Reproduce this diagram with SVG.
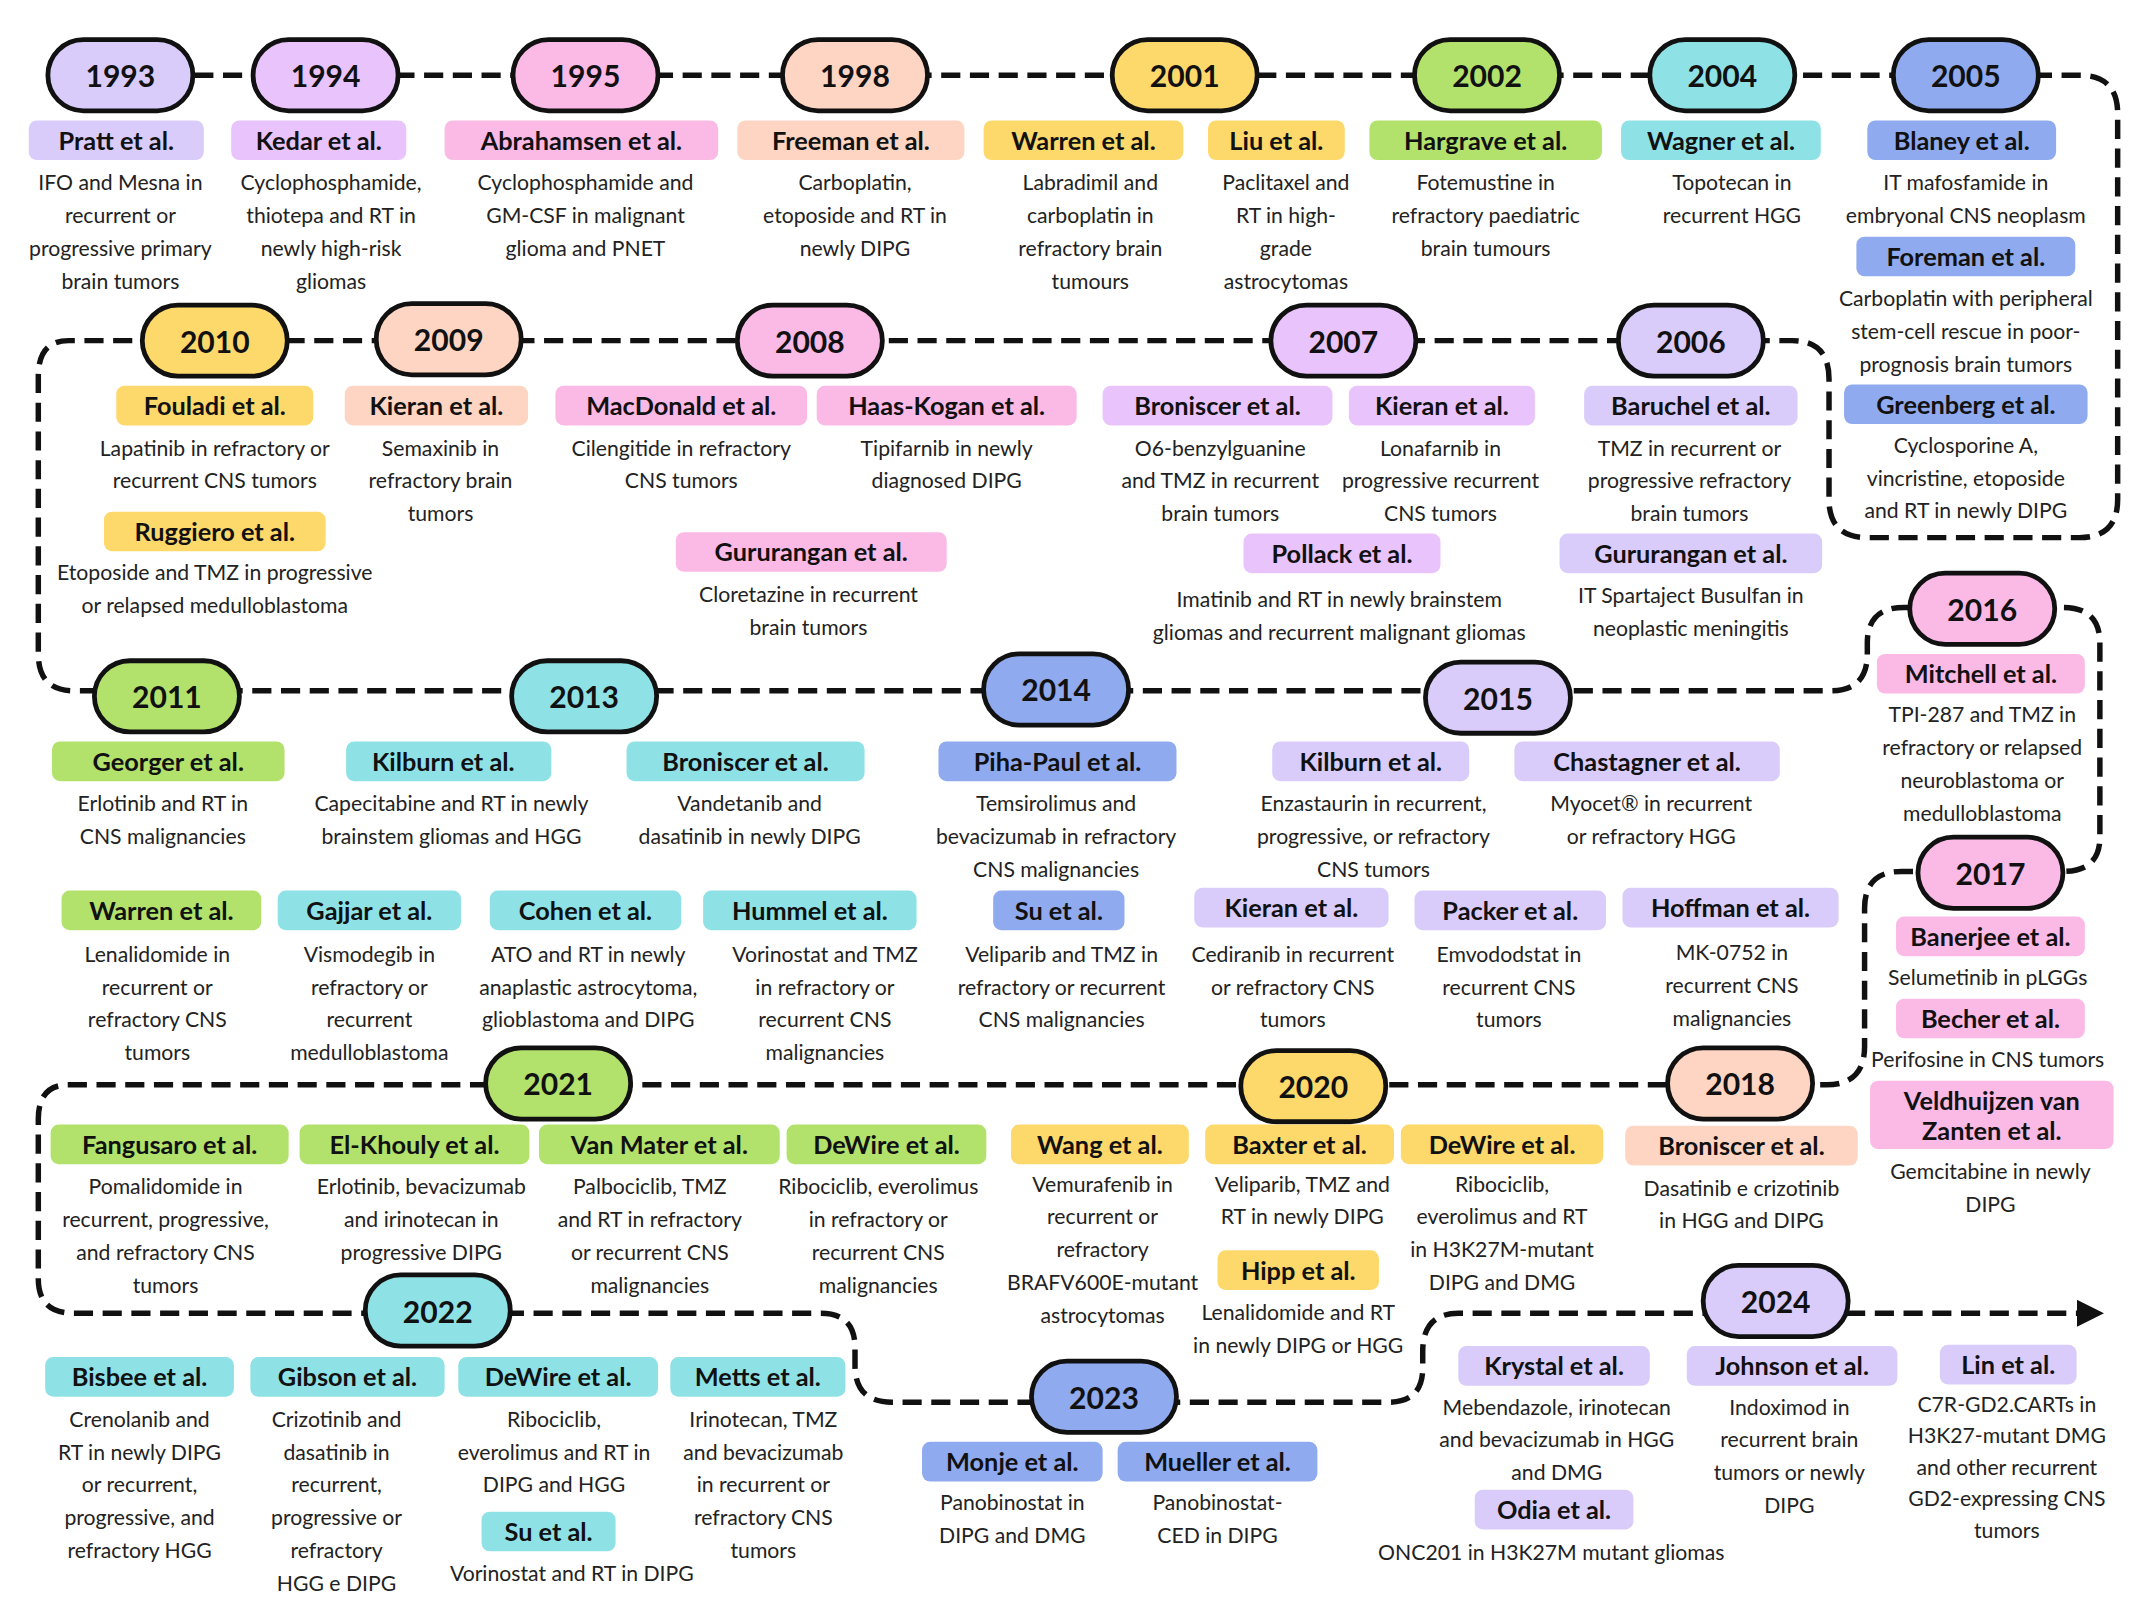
<svg xmlns="http://www.w3.org/2000/svg" width="2134" height="1600" viewBox="0 0 2134 1600">
<style>
.p{stroke:#111;stroke-width:3.5}
.y{font:bold 22px Lato,"Liberation Sans",sans-serif;fill:#111;text-anchor:middle;dominant-baseline:central}
.n{font:bold 18.5px Lato,"Liberation Sans",sans-serif;fill:#111;text-anchor:middle;dominant-baseline:central}
.d{font:15.5px Lato,"Liberation Sans",sans-serif;fill:#222;text-anchor:middle}
.lav{fill:#d9ccfb}.pur{fill:#e9c3fb}.pnk{fill:#fbb9e6}.pch{fill:#fdd5c2}.yel{fill:#fdd86a}.grn{fill:#b2e26b}.cyn{fill:#8ee2e6}.blu{fill:#8faaee}
.c{fill:none;stroke:#111;stroke-width:4;stroke-dasharray:14 7}
</style>
<defs><marker id="ah" viewBox="0 0 10 10" refX="6" refY="5" markerWidth="5" markerHeight="5" orient="auto"><path d="M0,0 L10,5 L0,10 z" fill="#111"/></marker></defs>
<rect width="2134" height="1600" fill="#fff"/>
<g transform="scale(1.368)">
<g id="connectors">
<path class="c" d="M142,55 H1520 Q1548,55 1548,83 V365 Q1548,393 1520,393 H1365 Q1337,393 1337,365 V277 Q1337,249 1310,249 H50 Q28,249 28,275 V478 Q28,505 54,505 H1338 Q1365,505 1365,478 V470 Q1365,444 1392,444 H1508 Q1535,444 1535,470 V612 Q1535,637 1508,637 H1390 Q1363,637 1363,664 V765 Q1363,793 1335,793 H50 Q28,793 28,818 V935 Q28,960 54,960 H600 Q625,960 625,985 V998 Q625,1025 652,1025 H1015 Q1040,1025 1040,1000 V988 Q1040,960 1066,960 H1530" marker-end="url(#ah)"/>
</g>
<g id="years">
<g id="y1993"><rect class="p lav" x="35" y="29" width="106" height="52" rx="26"/><text class="y" x="88" y="55">1993</text></g>
<g id="y1994"><rect class="p pur" x="185" y="29" width="106" height="52" rx="26"/><text class="y" x="238" y="55">1994</text></g>
<g id="y1995"><rect class="p pnk" x="375" y="29" width="106" height="52" rx="26"/><text class="y" x="428" y="55">1995</text></g>
<g id="y1998"><rect class="p pch" x="572" y="29" width="106" height="52" rx="26"/><text class="y" x="625" y="55">1998</text></g>
<g id="y2001"><rect class="p yel" x="813" y="29" width="106" height="52" rx="26"/><text class="y" x="866" y="55">2001</text></g>
<g id="y2002"><rect class="p grn" x="1034" y="29" width="106" height="52" rx="26"/><text class="y" x="1087" y="55">2002</text></g>
<g id="y2004"><rect class="p cyn" x="1206" y="29" width="106" height="52" rx="26"/><text class="y" x="1259" y="55">2004</text></g>
<g id="y2005"><rect class="p blu" x="1384" y="29" width="106" height="52" rx="26"/><text class="y" x="1437" y="55">2005</text></g>
<g id="y2006"><rect class="p lav" x="1183" y="223" width="106" height="52" rx="26"/><text class="y" x="1236" y="249">2006</text></g>
<g id="y2007"><rect class="p pur" x="929" y="223" width="106" height="52" rx="26"/><text class="y" x="982" y="249">2007</text></g>
<g id="y2008"><rect class="p pnk" x="539" y="223" width="106" height="52" rx="26"/><text class="y" x="592" y="249">2008</text></g>
<g id="y2009"><rect class="p pch" x="275" y="222" width="106" height="52" rx="26"/><text class="y" x="328" y="248">2009</text></g>
<g id="y2010"><rect class="p yel" x="104" y="223" width="106" height="52" rx="26"/><text class="y" x="157" y="249">2010</text></g>
<g id="y2011"><rect class="p grn" x="69" y="483" width="106" height="52" rx="26"/><text class="y" x="122" y="509">2011</text></g>
<g id="y2013"><rect class="p cyn" x="374" y="483" width="106" height="52" rx="26"/><text class="y" x="427" y="509">2013</text></g>
<g id="y2014"><rect class="p blu" x="719" y="478" width="106" height="52" rx="26"/><text class="y" x="772" y="504">2014</text></g>
<g id="y2015"><rect class="p lav" x="1042" y="484" width="106" height="52" rx="26"/><text class="y" x="1095" y="510">2015</text></g>
<g id="y2016"><rect class="p pnk" x="1396" y="419" width="106" height="52" rx="26"/><text class="y" x="1449" y="445">2016</text></g>
<g id="y2017"><rect class="p pnk" x="1402" y="612" width="106" height="52" rx="26"/><text class="y" x="1455" y="638">2017</text></g>
<g id="y2018"><rect class="p pch" x="1219" y="766" width="106" height="52" rx="26"/><text class="y" x="1272" y="792">2018</text></g>
<g id="y2020"><rect class="p yel" x="907" y="768" width="106" height="52" rx="26"/><text class="y" x="960" y="794">2020</text></g>
<g id="y2021"><rect class="p grn" x="355" y="766" width="106" height="52" rx="26"/><text class="y" x="408" y="792">2021</text></g>
<g id="y2022"><rect class="p cyn" x="267" y="932" width="106" height="52" rx="26"/><text class="y" x="320" y="958">2022</text></g>
<g id="y2023"><rect class="p blu" x="754" y="995" width="106" height="52" rx="26"/><text class="y" x="807" y="1021">2023</text></g>
<g id="y2024"><rect class="p lav" x="1245" y="925" width="106" height="52" rx="26"/><text class="y" x="1298" y="951">2024</text></g>
</g>
<g id="studies">
<g id="pratt"><rect class="lav" x="21" y="88" width="128" height="29" rx="6"/><text class="n" x="85" y="102">Pratt et al.</text><text class="d" x="88" y="139"><tspan x="88">IFO and Mesna in</tspan><tspan x="88" dy="24">recurrent or</tspan><tspan x="88" dy="24">progressive primary</tspan><tspan x="88" dy="24">brain tumors</tspan></text></g>
<g id="kedar"><rect class="pur" x="169" y="88" width="128" height="29" rx="6"/><text class="n" x="233" y="102">Kedar et al.</text><text class="d" x="242" y="139"><tspan x="242">Cyclophosphamide,</tspan><tspan x="242" dy="24">thiotepa and RT in</tspan><tspan x="242" dy="24">newly high-risk</tspan><tspan x="242" dy="24">gliomas</tspan></text></g>
<g id="abrahamsen"><rect class="pnk" x="325" y="88" width="200" height="29" rx="6"/><text class="n" x="425" y="102">Abrahamsen et al.</text><text class="d" x="428" y="139"><tspan x="428">Cyclophosphamide and</tspan><tspan x="428" dy="24">GM-CSF in malignant</tspan><tspan x="428" dy="24">glioma and  PNET</tspan></text></g>
<g id="freeman"><rect class="pch" x="539" y="88" width="166" height="29" rx="6"/><text class="n" x="622" y="102">Freeman et al.</text><text class="d" x="625" y="139"><tspan x="625">Carboplatin,</tspan><tspan x="625" dy="24">etoposide and RT in</tspan><tspan x="625" dy="24">newly DIPG</tspan></text></g>
<g id="warren2001"><rect class="yel" x="719" y="88" width="146" height="29" rx="6"/><text class="n" x="792" y="102">Warren et al.</text><text class="d" x="797" y="139"><tspan x="797">Labradimil and</tspan><tspan x="797" dy="24">carboplatin in</tspan><tspan x="797" dy="24">refractory brain</tspan><tspan x="797" dy="24">tumours</tspan></text></g>
<g id="liu"><rect class="yel" x="883" y="88" width="100" height="29" rx="6"/><text class="n" x="933" y="102">Liu et al.</text><text class="d" x="940" y="139"><tspan x="940">Paclitaxel and</tspan><tspan x="940" dy="24">RT in high-</tspan><tspan x="940" dy="24">grade</tspan><tspan x="940" dy="24">astrocytomas</tspan></text></g>
<g id="hargrave"><rect class="grn" x="1001" y="88" width="170" height="29" rx="6"/><text class="n" x="1086" y="102">Hargrave et al.</text><text class="d" x="1086" y="139"><tspan x="1086">Fotemustine in</tspan><tspan x="1086" dy="24">refractory paediatric</tspan><tspan x="1086" dy="24">brain tumours</tspan></text></g>
<g id="wagner"><rect class="cyn" x="1185" y="88" width="146" height="29" rx="6"/><text class="n" x="1258" y="102">Wagner et al.</text><text class="d" x="1266" y="139"><tspan x="1266">Topotecan in</tspan><tspan x="1266" dy="24">recurrent HGG</tspan></text></g>
<g id="blaney"><rect class="blu" x="1365" y="88" width="138" height="29" rx="6"/><text class="n" x="1434" y="102">Blaney et al.</text><text class="d" x="1437" y="139"><tspan x="1437">IT mafosfamide in</tspan><tspan x="1437" dy="24">embryonal CNS neoplasm</tspan></text></g>
<g id="foreman"><rect class="blu" x="1357" y="173" width="160" height="29" rx="6"/><text class="n" x="1437" y="187">Foreman et al.</text><text class="d" x="1437" y="224"><tspan x="1437">Carboplatin with peripheral</tspan><tspan x="1437" dy="24">stem-cell rescue in poor-</tspan><tspan x="1437" dy="24">prognosis brain tumors</tspan></text></g>
<g id="greenberg"><rect class="blu" x="1348" y="281" width="178" height="29" rx="6"/><text class="n" x="1437" y="295">Greenberg et al.</text><text class="d" x="1437" y="331"><tspan x="1437">Cyclosporine A,</tspan><tspan x="1437" dy="24">vincristine, etoposide</tspan><tspan x="1437" dy="24">and RT in newly DIPG</tspan></text></g>
<g id="fouladi"><rect class="yel" x="85" y="282" width="144" height="29" rx="6"/><text class="n" x="157" y="296">Fouladi et al.</text><text class="d" x="157" y="333"><tspan x="157">Lapatinib in refractory or</tspan><tspan x="157" dy="24">recurrent CNS tumors</tspan></text></g>
<g id="ruggiero"><rect class="yel" x="76" y="374" width="162" height="29" rx="6"/><text class="n" x="157" y="388">Ruggiero et al.</text><text class="d" x="157" y="424"><tspan x="157">Etoposide and TMZ in progressive</tspan><tspan x="157" dy="24">or relapsed medulloblastoma</tspan></text></g>
<g id="kieran2009"><rect class="pch" x="252" y="282" width="134" height="29" rx="6"/><text class="n" x="319" y="296">Kieran et al.</text><text class="d" x="322" y="333"><tspan x="322">Semaxinib in</tspan><tspan x="322" dy="24">refractory brain</tspan><tspan x="322" dy="24">tumors</tspan></text></g>
<g id="macdonald"><rect class="pnk" x="406" y="282" width="184" height="29" rx="6"/><text class="n" x="498" y="296">MacDonald et al.</text><text class="d" x="498" y="333"><tspan x="498">Cilengitide in refractory</tspan><tspan x="498" dy="24">CNS tumors</tspan></text></g>
<g id="haaskogan"><rect class="pnk" x="597" y="282" width="190" height="29" rx="6"/><text class="n" x="692" y="296">Haas-Kogan et al.</text><text class="d" x="692" y="333"><tspan x="692">Tipifarnib in newly</tspan><tspan x="692" dy="24">diagnosed DIPG</tspan></text></g>
<g id="gururangan2008"><rect class="pnk" x="494" y="389" width="198" height="29" rx="6"/><text class="n" x="593" y="403">Gururangan et al.</text><text class="d" x="591" y="440"><tspan x="591">Cloretazine in recurrent</tspan><tspan x="591" dy="24">brain tumors</tspan></text></g>
<g id="broniscer2007"><rect class="pur" x="806" y="282" width="168" height="29" rx="6"/><text class="n" x="890" y="296">Broniscer et al.</text><text class="d" x="892" y="333"><tspan x="892">O6-benzylguanine</tspan><tspan x="892" dy="24">and TMZ in recurrent</tspan><tspan x="892" dy="24">brain tumors</tspan></text></g>
<g id="kieran2007"><rect class="pur" x="986" y="282" width="136" height="29" rx="6"/><text class="n" x="1054" y="296">Kieran et al.</text><text class="d" x="1053" y="333"><tspan x="1053">Lonafarnib in</tspan><tspan x="1053" dy="24">progressive recurrent</tspan><tspan x="1053" dy="24">CNS tumors</tspan></text></g>
<g id="pollack"><rect class="pur" x="909" y="390" width="144" height="29" rx="6"/><text class="n" x="981" y="404">Pollack et al.</text><text class="d" x="979" y="444"><tspan x="979">Imatinib and RT in newly brainstem</tspan><tspan x="979" dy="24">gliomas and recurrent malignant gliomas</tspan></text></g>
<g id="baruchel"><rect class="lav" x="1158" y="282" width="156" height="29" rx="6"/><text class="n" x="1236" y="296">Baruchel et al.</text><text class="d" x="1235" y="333"><tspan x="1235">TMZ in recurrent or</tspan><tspan x="1235" dy="24">progressive refractory</tspan><tspan x="1235" dy="24">brain tumors</tspan></text></g>
<g id="gururangan2006"><rect class="lav" x="1140" y="390" width="192" height="29" rx="6"/><text class="n" x="1236" y="404">Gururangan et al.</text><text class="d" x="1236" y="441"><tspan x="1236">IT Spartaject Busulfan in</tspan><tspan x="1236" dy="24">neoplastic meningitis</tspan></text></g>
<g id="georger"><rect class="grn" x="38" y="542" width="170" height="29" rx="6"/><text class="n" x="123" y="556">Georger et al.</text><text class="d" x="119" y="593"><tspan x="119">Erlotinib and RT in</tspan><tspan x="119" dy="24">CNS malignancies</tspan></text></g>
<g id="kilburn2013"><rect class="cyn" x="253" y="542" width="150" height="29" rx="6"/><text class="n" x="324" y="556">Kilburn et al.</text><text class="d" x="330" y="593"><tspan x="330">Capecitabine and RT in newly</tspan><tspan x="330" dy="24">brainstem gliomas and HGG</tspan></text></g>
<g id="broniscer2013"><rect class="cyn" x="458" y="542" width="174" height="29" rx="6"/><text class="n" x="545" y="556">Broniscer et al.</text><text class="d" x="548" y="593"><tspan x="548">Vandetanib and</tspan><tspan x="548" dy="24">dasatinib in newly DIPG</tspan></text></g>
<g id="pihapaul"><rect class="blu" x="686" y="542" width="174" height="29" rx="6"/><text class="n" x="773" y="556">Piha-Paul et al.</text><text class="d" x="772" y="593"><tspan x="772">Temsirolimus and</tspan><tspan x="772" dy="24">bevacizumab in refractory</tspan><tspan x="772" dy="24">CNS malignancies</tspan></text></g>
<g id="kilburn2015"><rect class="lav" x="930" y="542" width="144" height="29" rx="6"/><text class="n" x="1002" y="556">Kilburn et al.</text><text class="d" x="1004" y="593"><tspan x="1004">Enzastaurin in recurrent,</tspan><tspan x="1004" dy="24">progressive, or refractory</tspan><tspan x="1004" dy="24">CNS tumors</tspan></text></g>
<g id="chastagner"><rect class="lav" x="1107" y="542" width="194" height="29" rx="6"/><text class="n" x="1204" y="556">Chastagner et al.</text><text class="d" x="1207" y="593"><tspan x="1207">Myocet® in recurrent</tspan><tspan x="1207" dy="24">or refractory HGG</tspan></text></g>
<g id="mitchell"><rect class="pnk" x="1372" y="478" width="152" height="29" rx="6"/><text class="n" x="1448" y="492">Mitchell et al.</text><text class="d" x="1449" y="528"><tspan x="1449">TPI-287 and TMZ in</tspan><tspan x="1449" dy="24">refractory or relapsed</tspan><tspan x="1449" dy="24">neuroblastoma or</tspan><tspan x="1449" dy="24">medulloblastoma</tspan></text></g>
<g id="warren2013"><rect class="grn" x="45" y="651" width="146" height="29" rx="6"/><text class="n" x="118" y="665">Warren et al.</text><text class="d" x="115" y="703"><tspan x="115">Lenalidomide in</tspan><tspan x="115" dy="24">recurrent or</tspan><tspan x="115" dy="24">refractory CNS</tspan><tspan x="115" dy="24">tumors</tspan></text></g>
<g id="gajjar"><rect class="cyn" x="203" y="651" width="134" height="29" rx="6"/><text class="n" x="270" y="665">Gajjar et al.</text><text class="d" x="270" y="703"><tspan x="270">Vismodegib in</tspan><tspan x="270" dy="24">refractory or</tspan><tspan x="270" dy="24">recurrent</tspan><tspan x="270" dy="24">medulloblastoma</tspan></text></g>
<g id="cohen"><rect class="cyn" x="358" y="651" width="140" height="29" rx="6"/><text class="n" x="428" y="665">Cohen et al.</text><text class="d" x="430" y="703"><tspan x="430">ATO and RT in newly</tspan><tspan x="430" dy="24">anaplastic astrocytoma,</tspan><tspan x="430" dy="24">glioblastoma and DIPG</tspan></text></g>
<g id="hummel"><rect class="cyn" x="514" y="651" width="156" height="29" rx="6"/><text class="n" x="592" y="665">Hummel et al.</text><text class="d" x="603" y="703"><tspan x="603">Vorinostat and TMZ</tspan><tspan x="603" dy="24">in refractory or</tspan><tspan x="603" dy="24">recurrent CNS</tspan><tspan x="603" dy="24">malignancies</tspan></text></g>
<g id="su2014"><rect class="blu" x="726" y="651" width="96" height="29" rx="6"/><text class="n" x="774" y="665">Su et al.</text><text class="d" x="776" y="703"><tspan x="776">Veliparib and TMZ in</tspan><tspan x="776" dy="24">refractory or recurrent</tspan><tspan x="776" dy="24">CNS malignancies</tspan></text></g>
<g id="kieran2015"><rect class="lav" x="873" y="649" width="142" height="29" rx="6"/><text class="n" x="944" y="663">Kieran et al.</text><text class="d" x="945" y="703"><tspan x="945">Cediranib in recurrent</tspan><tspan x="945" dy="24">or refractory CNS</tspan><tspan x="945" dy="24">tumors</tspan></text></g>
<g id="packer"><rect class="lav" x="1034" y="651" width="140" height="29" rx="6"/><text class="n" x="1104" y="665">Packer et al.</text><text class="d" x="1103" y="703"><tspan x="1103">Emvododstat in</tspan><tspan x="1103" dy="24">recurrent CNS</tspan><tspan x="1103" dy="24">tumors</tspan></text></g>
<g id="hoffman"><rect class="lav" x="1186" y="649" width="158" height="29" rx="6"/><text class="n" x="1265" y="663">Hoffman et al.</text><text class="d" x="1266" y="702"><tspan x="1266">MK-0752 in</tspan><tspan x="1266" dy="24">recurrent CNS</tspan><tspan x="1266" dy="24">malignancies</tspan></text></g>
<g id="banerjee"><rect class="pnk" x="1386" y="670" width="138" height="29" rx="6"/><text class="n" x="1455" y="684">Banerjee et al.</text><text class="d" x="1453" y="720">Selumetinib in pLGGs</text></g>
<g id="becher"><rect class="pnk" x="1386" y="730" width="138" height="29" rx="6"/><text class="n" x="1455" y="744">Becher et al.</text><text class="d" x="1453" y="780">Perifosine in CNS tumors</text></g>
<g id="veldhuijzen"><rect class="pnk" x="1367" y="790" width="178" height="50" rx="6"/><text class="n" x="1456" y="804">Veldhuijzen van</text><text class="n" x="1456" y="826">Zanten et al.</text><text class="d" x="1455" y="862"><tspan x="1455">Gemcitabine in newly</tspan><tspan x="1455" dy="24">DIPG</tspan></text></g>
<g id="fangusaro"><rect class="grn" x="37" y="822" width="174" height="29" rx="6"/><text class="n" x="124" y="836">Fangusaro et al.</text><text class="d" x="121" y="873"><tspan x="121">Pomalidomide in</tspan><tspan x="121" dy="24">recurrent, progressive,</tspan><tspan x="121" dy="24">and refractory CNS</tspan><tspan x="121" dy="24">tumors</tspan></text></g>
<g id="elkhouly"><rect class="grn" x="219" y="822" width="168" height="29" rx="6"/><text class="n" x="303" y="836">El-Khouly et al.</text><text class="d" x="308" y="873"><tspan x="308">Erlotinib, bevacizumab</tspan><tspan x="308" dy="24">and irinotecan in</tspan><tspan x="308" dy="24">progressive DIPG</tspan></text></g>
<g id="vanmater"><rect class="grn" x="394" y="822" width="176" height="29" rx="6"/><text class="n" x="482" y="836">Van Mater et al.</text><text class="d" x="475" y="873"><tspan x="475">Palbociclib, TMZ</tspan><tspan x="475" dy="24">and RT in refractory</tspan><tspan x="475" dy="24">or recurrent CNS</tspan><tspan x="475" dy="24">malignancies</tspan></text></g>
<g id="dewire2021"><rect class="grn" x="575" y="822" width="146" height="29" rx="6"/><text class="n" x="648" y="836">DeWire et al.</text><text class="d" x="642" y="873"><tspan x="642">Ribociclib, everolimus</tspan><tspan x="642" dy="24">in refractory or</tspan><tspan x="642" dy="24">recurrent CNS</tspan><tspan x="642" dy="24">malignancies</tspan></text></g>
<g id="wang"><rect class="yel" x="739" y="822" width="130" height="29" rx="6"/><text class="n" x="804" y="836">Wang et al.</text><text class="d" x="806" y="871"><tspan x="806">Vemurafenib in</tspan><tspan x="806" dy="24">recurrent or</tspan><tspan x="806" dy="24">refractory</tspan><tspan x="806" dy="24">BRAFV600E-mutant</tspan><tspan x="806" dy="24">astrocytomas</tspan></text></g>
<g id="baxter"><rect class="yel" x="881" y="822" width="138" height="29" rx="6"/><text class="n" x="950" y="836">Baxter et al.</text><text class="d" x="952" y="871"><tspan x="952">Veliparib, TMZ and</tspan><tspan x="952" dy="24">RT in newly DIPG</tspan></text></g>
<g id="dewire2020"><rect class="yel" x="1024" y="822" width="148" height="29" rx="6"/><text class="n" x="1098" y="836">DeWire et al.</text><text class="d" x="1098" y="871"><tspan x="1098">Ribociclib,</tspan><tspan x="1098" dy="24">everolimus and RT</tspan><tspan x="1098" dy="24">in H3K27M-mutant</tspan><tspan x="1098" dy="24">DIPG and DMG</tspan></text></g>
<g id="hipp"><rect class="yel" x="890" y="914" width="118" height="29" rx="6"/><text class="n" x="949" y="928">Hipp et al.</text><text class="d" x="949" y="965"><tspan x="949">Lenalidomide and RT</tspan><tspan x="949" dy="24">in newly DIPG or HGG</tspan></text></g>
<g id="broniscer2018"><rect class="pch" x="1188" y="823" width="170" height="29" rx="6"/><text class="n" x="1273" y="837">Broniscer et al.</text><text class="d" x="1273" y="874"><tspan x="1273">Dasatinib e crizotinib</tspan><tspan x="1273" dy="24">in HGG and DIPG</tspan></text></g>
<g id="bisbee"><rect class="cyn" x="33" y="992" width="138" height="29" rx="6"/><text class="n" x="102" y="1006">Bisbee et al.</text><text class="d" x="102" y="1043"><tspan x="102">Crenolanib and</tspan><tspan x="102" dy="24">RT in newly DIPG</tspan><tspan x="102" dy="24">or recurrent,</tspan><tspan x="102" dy="24">progressive, and</tspan><tspan x="102" dy="24">refractory HGG</tspan></text></g>
<g id="gibson"><rect class="cyn" x="183" y="992" width="142" height="29" rx="6"/><text class="n" x="254" y="1006">Gibson et al.</text><text class="d" x="246" y="1043"><tspan x="246">Crizotinib and</tspan><tspan x="246" dy="24">dasatinib in</tspan><tspan x="246" dy="24">recurrent,</tspan><tspan x="246" dy="24">progressive or</tspan><tspan x="246" dy="24">refractory</tspan><tspan x="246" dy="24">HGG e DIPG</tspan></text></g>
<g id="dewire2022"><rect class="cyn" x="335" y="992" width="146" height="29" rx="6"/><text class="n" x="408" y="1006">DeWire et al.</text><text class="d" x="405" y="1043"><tspan x="405">Ribociclib,</tspan><tspan x="405" dy="24">everolimus and RT in</tspan><tspan x="405" dy="24">DIPG and HGG</tspan></text></g>
<g id="su2022"><rect class="cyn" x="352" y="1105" width="98" height="29" rx="6"/><text class="n" x="401" y="1119">Su et al.</text><text class="d" x="418" y="1156">Vorinostat and RT in DIPG</text></g>
<g id="metts"><rect class="cyn" x="490" y="992" width="128" height="29" rx="6"/><text class="n" x="554" y="1006">Metts et al.</text><text class="d" x="558" y="1043"><tspan x="558">Irinotecan, TMZ</tspan><tspan x="558" dy="24">and bevacizumab</tspan><tspan x="558" dy="24">in recurrent or</tspan><tspan x="558" dy="24">refractory CNS</tspan><tspan x="558" dy="24">tumors</tspan></text></g>
<g id="monje"><rect class="blu" x="674" y="1054" width="132" height="29" rx="6"/><text class="n" x="740" y="1068">Monje et al.</text><text class="d" x="740" y="1104"><tspan x="740">Panobinostat in</tspan><tspan x="740" dy="24">DIPG and DMG</tspan></text></g>
<g id="mueller"><rect class="blu" x="817" y="1054" width="146" height="29" rx="6"/><text class="n" x="890" y="1068">Mueller et al.</text><text class="d" x="890" y="1104"><tspan x="890">Panobinostat-</tspan><tspan x="890" dy="24">CED in DIPG</tspan></text></g>
<g id="krystal"><rect class="lav" x="1066" y="984" width="140" height="29" rx="6"/><text class="n" x="1136" y="998">Krystal et al.</text><text class="d" x="1138" y="1034"><tspan x="1138">Mebendazole, irinotecan</tspan><tspan x="1138" dy="24">and  bevacizumab in HGG</tspan><tspan x="1138" dy="24">and DMG</tspan></text></g>
<g id="odia"><rect class="lav" x="1078" y="1089" width="116" height="29" rx="6"/><text class="n" x="1136" y="1103">Odia et al.</text><text class="d" x="1134" y="1140">ONC201 in H3K27M mutant gliomas</text></g>
<g id="johnson"><rect class="lav" x="1233" y="984" width="154" height="29" rx="6"/><text class="n" x="1310" y="998">Johnson et al.</text><text class="d" x="1308" y="1034"><tspan x="1308">Indoximod in</tspan><tspan x="1308" dy="24">recurrent brain</tspan><tspan x="1308" dy="24">tumors or newly</tspan><tspan x="1308" dy="24">DIPG</tspan></text></g>
<g id="lin"><rect class="lav" x="1418" y="983" width="100" height="29" rx="6"/><text class="n" x="1468" y="997">Lin et al.</text><text class="d" x="1467" y="1032"><tspan x="1467">C7R-GD2.CARTs in</tspan><tspan x="1467" dy="23">H3K27-mutant DMG</tspan><tspan x="1467" dy="23">and other recurrent</tspan><tspan x="1467" dy="23">GD2-expressing CNS</tspan><tspan x="1467" dy="23">tumors</tspan></text></g>
</g>
</g>
</svg>
